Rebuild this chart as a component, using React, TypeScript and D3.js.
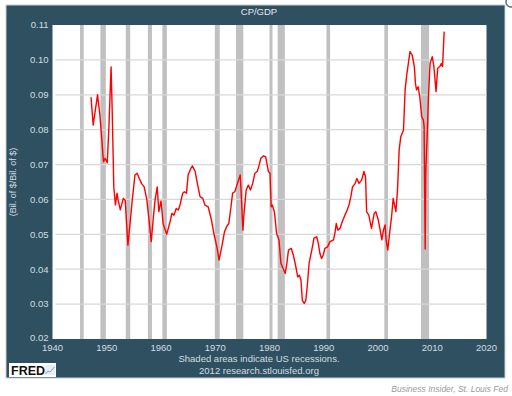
import React from "react";
import * as d3 from "d3";

const title = "CP/GDP";
const yLabel = "(Bil. of $/Bil. of $)";
const yTicks = [0.02, 0.03, 0.04, 0.05, 0.06, 0.07, 0.08, 0.09, 0.1, 0.11];
const xTicks = [1940, 1950, 1960, 1970, 1980, 1990, 2000, 2010, 2020];

const recessionStart = [1945.08, 1948.83, 1953.5, 1957.58, 1960.25, 1969.92, 1973.83, 1980.0, 1981.5, 1990.5, 2001.17, 2007.92];
const recessionEnd = [1945.75, 1949.83, 1954.33, 1958.33, 1961.08, 1970.83, 1975.17, 1980.5, 1982.83, 1991.17, 2001.83, 2009.42];

const years = [
  1947.1, 1947.5, 1948.3, 1948.75, 1949.4, 1949.7, 1950.1, 1950.4, 1950.8, 1951.0,
  1951.3, 1951.6, 1951.9, 1952.1, 1952.5, 1953.05, 1953.4, 1953.9, 1954.3, 1954.7,
  1955.2, 1955.6, 1956.0, 1956.4, 1956.9, 1957.4, 1957.8, 1958.2, 1958.6, 1958.9,
  1959.3, 1959.6, 1960.0, 1960.4, 1961.05, 1961.7, 1962.0, 1962.4, 1962.8, 1963.2,
  1963.5, 1964.0, 1964.3, 1964.7, 1965.0, 1965.5, 1965.8, 1966.3, 1966.7, 1967.2,
  1967.7, 1968.1, 1968.7, 1969.3, 1969.8, 1970.3, 1970.7, 1971.2, 1971.7, 1972.1,
  1972.5, 1972.9, 1973.2, 1973.6, 1974.1, 1974.6, 1974.75, 1975.1, 1975.3, 1975.7,
  1976.1, 1976.5, 1976.9, 1977.3, 1977.75, 1978.1, 1978.4, 1978.9, 1979.3, 1979.8,
  1980.1, 1980.3, 1980.5, 1980.9, 1981.3, 1981.75, 1982.1, 1982.5, 1982.9, 1983.2,
  1983.5, 1984.0, 1984.4, 1984.8, 1985.2, 1985.5, 1985.8, 1986.05, 1986.4, 1986.7,
  1987.0, 1987.3, 1987.8, 1988.2, 1988.7, 1989.0, 1989.3, 1989.6, 1989.9, 1990.2,
  1990.7, 1991.15, 1991.8, 1992.1, 1992.3, 1992.6, 1993.0, 1993.4, 1993.9, 1994.2,
  1994.65, 1995.0, 1995.3, 1995.8, 1996.1, 1996.5, 1997.0, 1997.4, 1997.7, 1997.9,
  1998.3, 1998.8, 1999.3, 1999.6, 2000.05, 2000.4, 2000.7, 2001.0, 2001.3, 2001.5,
  2001.8, 2002.2, 2002.5, 2002.8, 2003.3, 2003.6, 2003.9, 2004.2, 2004.7, 2005.0,
  2005.3, 2005.6, 2005.9, 2006.3, 2006.7, 2006.9, 2007.1, 2007.4, 2007.7, 2008.05,
  2008.35, 2008.5, 2008.7, 2008.8, 2009.1, 2009.3, 2009.6, 2010.0, 2010.3, 2010.7,
  2011.0, 2011.4, 2011.7, 2011.9, 2012.2,
];
const cpgdp = [
  0.0893, 0.0813, 0.09, 0.084, 0.0708, 0.0718, 0.0705, 0.0809, 0.098, 0.0857,
  0.0636, 0.0584, 0.0618, 0.0598, 0.057, 0.0603, 0.0598, 0.0469, 0.0532, 0.0598,
  0.067, 0.0675, 0.066, 0.0646, 0.0636, 0.0598, 0.054, 0.0479, 0.055, 0.0598,
  0.0636, 0.0565, 0.0596, 0.053, 0.05, 0.0538, 0.056, 0.0555, 0.0574, 0.057,
  0.0584, 0.0618, 0.0622, 0.0618, 0.067, 0.0689, 0.0696, 0.068, 0.0646, 0.0608,
  0.0603, 0.0584, 0.0579, 0.0541, 0.0498, 0.0464, 0.0426, 0.0464, 0.0507, 0.0522,
  0.0531, 0.0579, 0.0618, 0.0622, 0.0646, 0.067, 0.0627, 0.0512, 0.056, 0.0627,
  0.0641, 0.0627, 0.0646, 0.0675, 0.068, 0.0699, 0.0718, 0.0725, 0.0722, 0.068,
  0.0675, 0.0579, 0.0584, 0.0565, 0.0503, 0.0484, 0.0417, 0.0402, 0.0388, 0.0417,
  0.0455, 0.046, 0.044, 0.0412, 0.0378, 0.0383, 0.0369, 0.0311, 0.0302, 0.0311,
  0.0359, 0.0417, 0.0455, 0.0489, 0.0493, 0.0474, 0.0445, 0.0431, 0.044, 0.046,
  0.0464, 0.0479, 0.0484, 0.0507, 0.0531, 0.0512, 0.0517, 0.0536, 0.0555, 0.0565,
  0.0584, 0.0608, 0.0636, 0.0646, 0.066, 0.0646, 0.0656, 0.068, 0.0665, 0.0565,
  0.0555, 0.0517, 0.056, 0.0565, 0.0541, 0.0512, 0.0484, 0.0512, 0.0527, 0.0484,
  0.0455, 0.0512, 0.055, 0.0603, 0.0565, 0.0627, 0.0742, 0.078, 0.0799, 0.0914,
  0.0957, 0.099, 0.1024, 0.1014, 0.0981, 0.0933, 0.0914, 0.0923, 0.0895, 0.0837,
  0.0828, 0.0809, 0.0458, 0.0675, 0.0799, 0.0895, 0.099, 0.1009, 0.0981, 0.0909,
  0.0976, 0.0981, 0.099, 0.0981, 0.1081,
];

const W = 512;
const H = 396;
const plot = { left: 52.5, right: 486.5, top: 25, bottom: 339 };
const font = "'Liberation Sans', Arial, sans-serif";

export default function App() {
  const x = d3.scaleLinear().domain([1940, 2020]).range([plot.left, plot.right]);
  const y = d3.scaleLinear().domain([0.02, 0.11]).range([plot.bottom, plot.top]);
  const pts: [number, number][] = years.map((yr, i) => [yr, cpgdp[i]]);
  const line = d3
    .line<[number, number]>()
    .x((d) => x(d[0]))
    .y((d) => y(d[1]));
  const tickColor = "#d3dde2";

  return (
    <svg
      width={W}
      height={H}
      style={{ position: "absolute", left: 0, top: 0, background: "#fff" }}
      fontFamily={font}
    >
      <rect x={0} y={0} width={W} height={H} fill="#fff" />
      <rect x={6} y={5} width={499} height={373} fill="#2e5061" stroke="#c9ced1" strokeWidth={1} />
      <circle cx={511} cy={2} r={5} fill="#fff" stroke="#5a7380" strokeWidth={1.5} />
      <text x={259} y={15} textAnchor="middle" fontSize={9.5} fill="#e4e9ec">
        {title}
      </text>
      <rect
        x={plot.left}
        y={plot.top}
        width={plot.right - plot.left}
        height={plot.bottom - plot.top}
        fill="#fff"
      />
      {recessionStart.map((s, i) => {
        const x0 = x(s);
        const x1 = x(recessionEnd[i]);
        const w = Math.max(3, x1 - x0);
        return (
          <rect key={"r" + i} x={x0} y={plot.top} width={w} height={plot.bottom - plot.top} fill="#c0c0c0" />
        );
      })}
      {yTicks.slice(1, -1).map((t) => (
        <line
          key={"g" + t}
          x1={plot.left + 3}
          x2={plot.right}
          y1={y(t)}
          y2={y(t)}
          stroke="#d8d8d8"
          strokeWidth={1.2}
        />
      ))}
      <path d={line(pts) || ""} fill="none" stroke="#ff0000" strokeWidth={1.4} strokeLinejoin="round" />
      {yTicks.map((t) => (
        <text
          key={"yt" + t}
          x={plot.left - 4}
          y={y(t) - (t === 0.02 ? 1 : 0)}
          dy="0.35em"
          textAnchor="end"
          fontSize={9.5}
          fill={tickColor}
        >
          {d3.format(".2f")(t)}
        </text>
      ))}
      {xTicks.map((t) => (
        <text key={"xt" + t} x={x(t)} y={350.5} textAnchor="middle" fontSize={9.5} fill={tickColor}>
          {t}
        </text>
      ))}
      <text
        transform={`translate(16,${(plot.top + plot.bottom) / 2}) rotate(-90)`}
        textAnchor="middle"
        fontSize={9}
        fill={tickColor}
      >
        {yLabel}
      </text>
      <text x={259} y={361.5} textAnchor="middle" fontSize={9.5} fill={tickColor}>
        Shaded areas indicate US recessions.
      </text>
      <text x={259} y={374} textAnchor="middle" fontSize={9.5} fill={tickColor}>
        2012 research.stlouisfed.org
      </text>
      <rect x={9} y={363} width={47} height={14} fill="#fff" />
      <text x={11} y={375} fontSize={12.5} fontWeight="bold" fill="#111">
        FRED
      </text>
      <rect x={45} y={365} width={10} height={10} fill="#e8eef3" />
      <path d="M45.5,374 L48,371 L50,372 L54.5,367" fill="none" stroke="#7ea7c9" strokeWidth={1} />
      <text x={508} y={392} textAnchor="end" fontSize={8.5} fontStyle="italic" fill="#9a9a9a">
        Business Insider, St. Louis Fed
      </text>
    </svg>
  );
}
